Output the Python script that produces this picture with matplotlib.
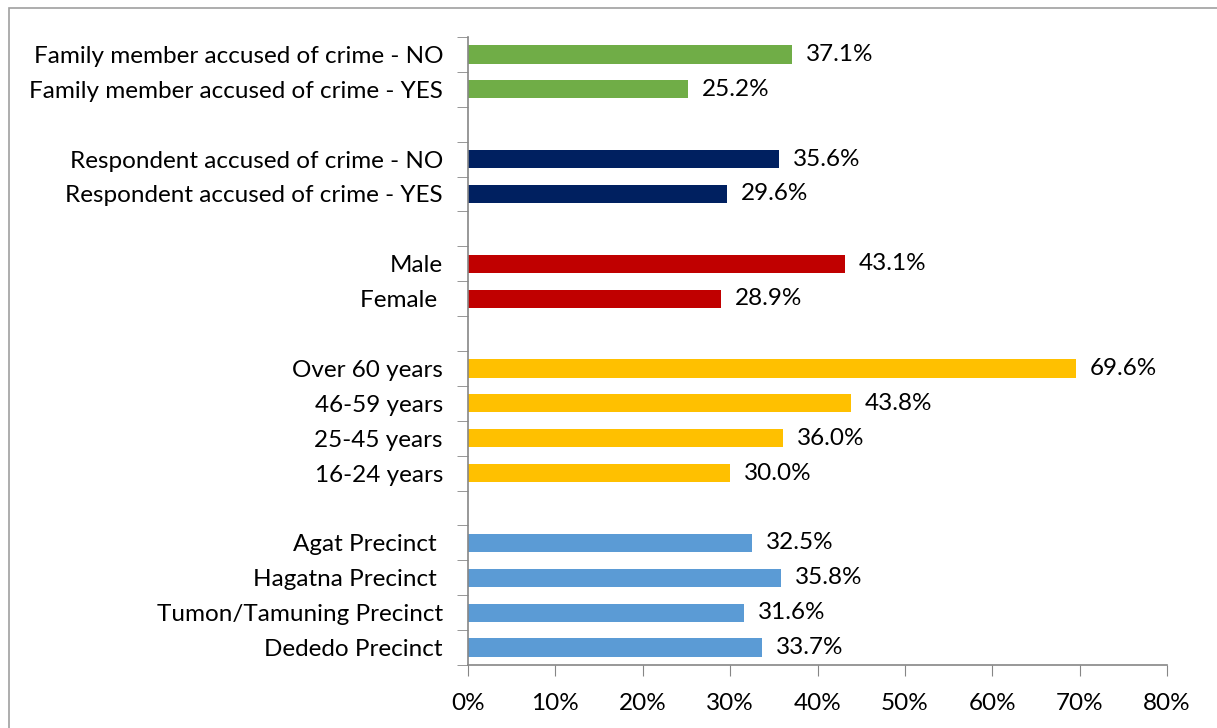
import numpy as np
import matplotlib
matplotlib.use('Agg')
import matplotlib.pyplot as plt
from matplotlib.patches import Rectangle

# data, top to bottom (None = blank row between groups)
labels = ['Family member accused of crime - NO', 'Family member accused of crime - YES', None,
          'Respondent accused of crime - NO', 'Respondent accused of crime - YES', None,
          'Male', 'Female ', None,
          'Over 60 years', '46-59 years', '25-45 years', '16-24 years', None,
          'Agat Precinct ', 'Hagatna Precinct ', 'Tumon/Tamuning Precinct', 'Dededo Precinct']
values = [37.1, 25.2, None,
          35.6, 29.6, None,
          43.1, 28.9, None,
          69.6, 43.8, 36.0, 30.0, None,
          32.5, 35.8, 31.6, 33.7]
colors = ['#70AD47', '#70AD47', None,
          '#002060', '#002060', None,
          '#C00000', '#C00000', None,
          '#FFC000', '#FFC000', '#FFC000', '#FFC000', None,
          '#5B9BD5', '#5B9BD5', '#5B9BD5', '#5B9BD5']

plt.rcParams['font.family'] = ['Lato', 'DejaVu Sans']
fs = 17.5

W, H = 1217, 728
fig = plt.figure(figsize=(W / 100, H / 100), dpi=100)
ax = fig.add_axes([468 / W, 1 - 665 / H, (1167 - 468) / W, (665 - 37) / H])

# outer frame (left and top visible)
fig.patches.append(Rectangle((9 / W, -0.1), 1.2, 1.1 - 8 / H, transform=fig.transFigure,
                             fill=False, edgecolor='#A0A0A0', linewidth=1.2))

n = len(labels)
pos = [i for i in range(n) if labels[i] is not None]
ax.barh(pos, [values[i] for i in pos], height=0.52,
        color=[colors[i] for i in pos], zorder=2)
for i in pos:
    ax.text(values[i] + 1.6, i, f'{values[i]:.1f}%', va='center', ha='left', fontsize=fs)

ax.set_ylim(n - 0.5, -0.5)
ax.set_xlim(0, 80)
ax.set_yticks(pos)
ax.set_yticklabels([labels[i] for i in pos], fontsize=fs)
ax.set_yticks(np.arange(-0.5, n, 1.0), minor=True)
ax.tick_params(axis='y', which='major', length=0, pad=18)
ax.tick_params(axis='y', which='minor', length=8, color='#868686', direction='out')
ax.set_xticks(np.arange(0, 81, 10))
ax.set_xticklabels([f'{v}%' for v in range(0, 81, 10)], fontsize=fs)
ax.tick_params(axis='x', length=8, color='#868686', pad=12)

for s in ['top', 'right']:
    ax.spines[s].set_visible(False)
for s in ['left', 'bottom']:
    ax.spines[s].set_color('#868686')
    ax.spines[s].set_linewidth(1.2)

fig.savefig('out.png', dpi=100)
